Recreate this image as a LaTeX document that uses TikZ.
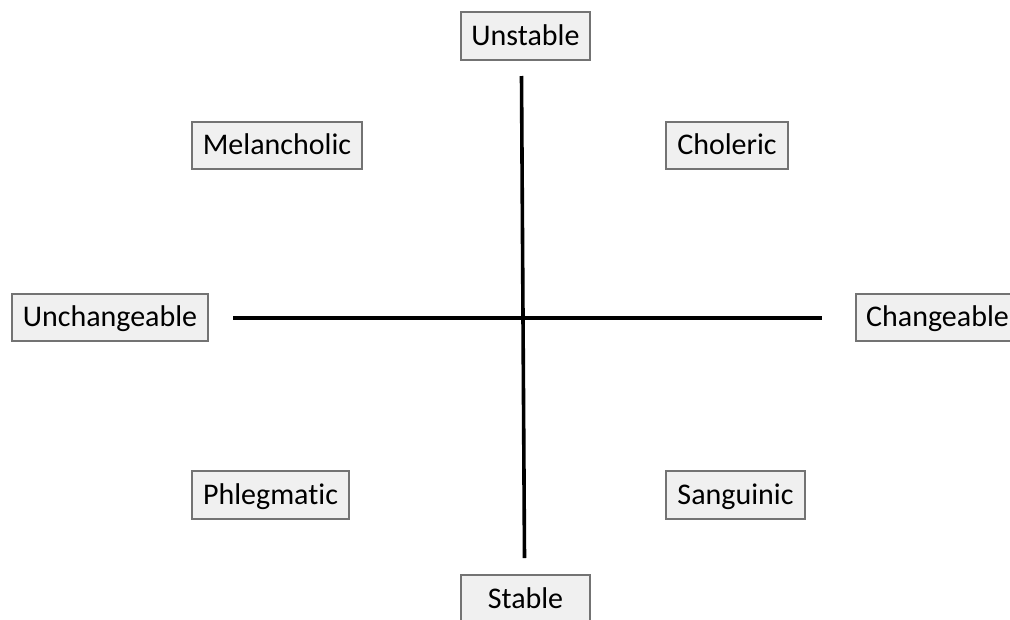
\documentclass[tikz,border=0pt]{standalone}
\usepackage{fontspec}
\setmainfont[Ligatures={NoCommon}]{Carlito}
\begin{document}
\begin{tikzpicture}[x=1pt,y=-1pt,
  lbl/.style={draw=black!55, line width=1.4pt, fill=black!6, inner sep=0pt,
    font=\fontsize{30}{36}\selectfont, text=black, anchor=center,
    text height=21pt, text depth=3pt},
  axis/.style={line width=3.6pt, black}]
\useasboundingbox (0,0) rectangle (1010,619);
\clip (0,0) rectangle (1010,619);
\node[lbl, minimum width=129pt, minimum height=48pt] (unstable) at (525.5,36) {Unstable};
\node[lbl, minimum width=170pt, minimum height=47pt] (melan) at (277,145.5) {Melancholic};
\node[lbl, minimum width=122pt, minimum height=47pt] (chol) at (727,145.5) {Choleric};
\node[lbl, minimum width=196pt, minimum height=47pt] (unch) at (110,317.5) {Unchangeable};
\node[lbl, minimum width=163pt, minimum height=47pt] (ch) at (937.5,317.5) {Changeable};
\node[lbl, minimum width=157pt, minimum height=48pt] (phleg) at (270.5,495) {Phlegmatic};
\node[lbl, minimum width=139pt, minimum height=48pt] (sang) at (735.5,495) {Sanguinic};
\node[lbl, minimum width=129pt, minimum height=48pt] (stable) at (525.5,599) {Stable};
\coordinate (vtop) at (521.5,76);
\coordinate (vbot) at (524.5,558);
\coordinate (hl) at (233,318);
\coordinate (hr) at (822,318);
\draw[axis] (vtop) -- (vbot);
\draw[axis] (hl) -- (hr);
\end{tikzpicture}
\end{document}
